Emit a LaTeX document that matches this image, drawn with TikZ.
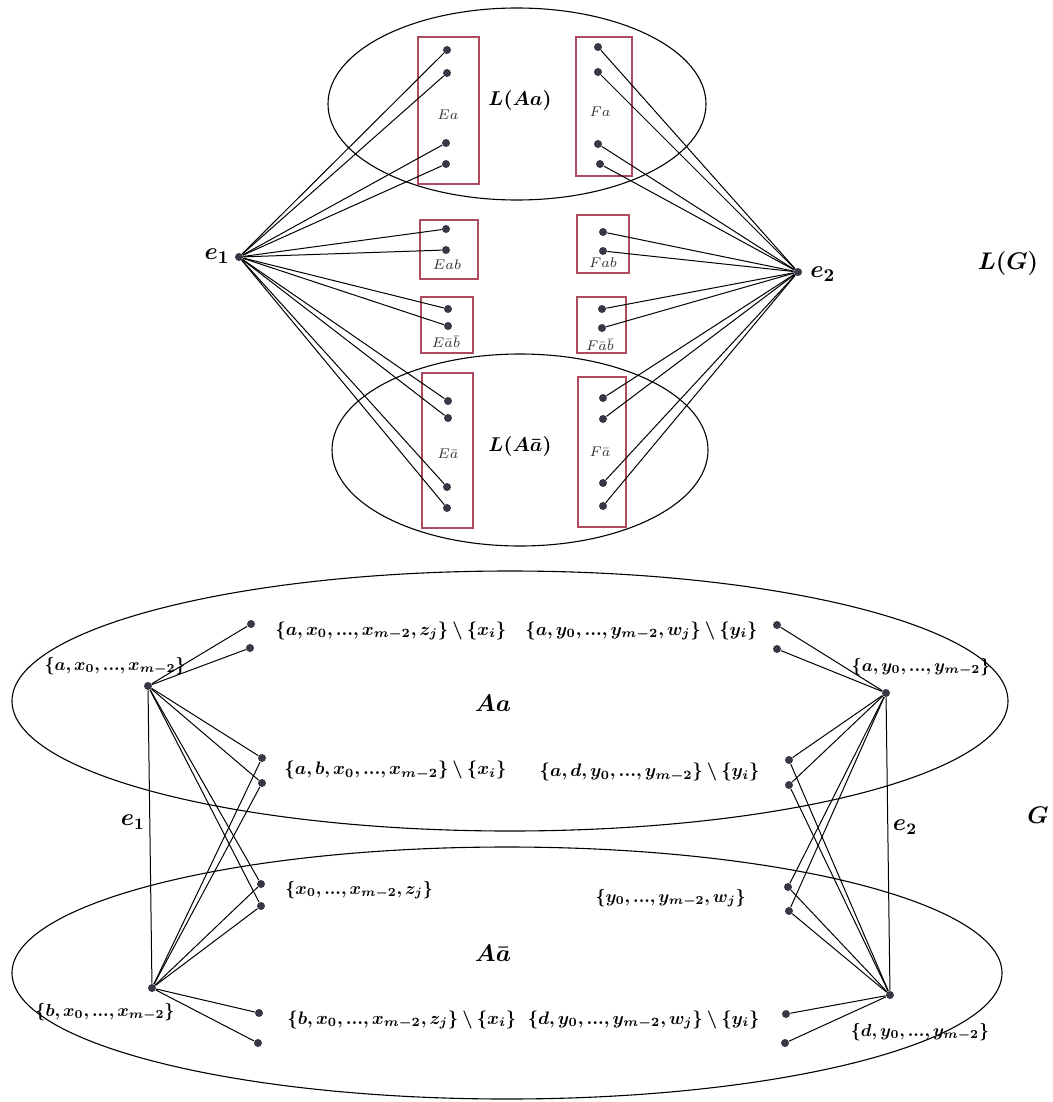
\documentclass[tikz,border=0pt]{standalone}
\usepackage{graphicx}
\usepackage{bm}
\newcommand{\labA}[1]{\scalebox{0.905}{$\bm{#1}$}}
\newcommand{\labB}[1]{\scalebox{0.875}{$\bm{#1}$}}
\begin{document}
\begin{tikzpicture}[x=0.5pt,y=-0.5pt,
  dot/.style={circle,fill=dotc,inner sep=0pt,minimum size=4pt},
  boxr/.style={draw=boxc,line width=0.7pt},
  ell/.style={draw=black,line width=0.55pt},
  edge/.style={draw=black,line width=0.5pt},
  sml/.style={font=\scriptsize,text=black!80,inner sep=1pt},
  lbl/.style={inner sep=1pt},
  big/.style={font=\fontsize{13}{15}\selectfont,inner sep=1pt}]
\definecolor{dotc}{RGB}{55,55,70}
\definecolor{boxc}{RGB}{175,75,95}
\useasboundingbox (0,0) rectangle (1053,1102);
% ---------- top: L(G) ----------
\draw[ell] (517,104) ellipse [x radius=189, y radius=96];
\draw[ell] (520,450) ellipse [x radius=188, y radius=96];
\draw[boxr] (418,37) rectangle (479,184);
\draw[boxr] (576,37) rectangle (632,176);
\draw[boxr] (420,220) rectangle (478,279);
\draw[boxr] (577,215) rectangle (629,273);
\draw[boxr] (421,297) rectangle (473,353);
\draw[boxr] (577,297) rectangle (626,353);
\draw[boxr] (422,373) rectangle (473,528);
\draw[boxr] (578,377) rectangle (626,527);
\node[sml] (tEa) at (448,115) {$Ea$};
\node[sml] (tFa) at (600,112) {$Fa$};
\node[sml] (tEab) at (447,265) {$Eab$};
\node[sml] (tFab) at (603,263) {$Fab$};
\node[sml] (tEnn) at (446,342) {$E\bar a\bar b$};
\node[sml] (tFnn) at (600,345) {$F\bar a\bar b$};
\node[sml] (tEna) at (448,454) {$E\bar a$};
\node[sml] (tFna) at (600,452) {$F\bar a$};
\node[inner sep=1pt] (tLAa) at (520,100) {$\bm{L(Aa)}$};
\node[inner sep=1pt] (tLAn) at (520,446) {$\bm{L(A\bar a)}$};
\node[big] (tLG) at (1008,263) {$\bm{L(G)}$};
\node[dot] (e1) at (239,257) {};
\node[dot] (e2) at (798,272) {};
\node[big,anchor=east] (te1) at (232,256) {$\bm{e_1}$};
\node[big,anchor=west] (te2) at (808,274) {$\bm{e_2}$};
\foreach \n/\x/\y in {a1/447/50,a2/447/73,a3/446/143,a4/446/164,
  b1/446/229,b2/446/250,c1/448/309,c2/448/326,
  d1/448/401,d2/448/418,d3/447/487,d4/447/508}{
  \node[dot] (\n) at (\x,\y) {};
  \draw[edge] (e1) -- (\n);}
\foreach \n/\x/\y in {f1/598/47,f2/598/72,f3/598/144,f4/600/164,
  g1/603/232,g2/603/251,h1/602/309,h2/602/328,
  k1/603/398,k2/603/419,k3/603/483,k4/603/506}{
  \node[dot] (\n) at (\x,\y) {};
  \draw[edge] (e2) -- (\n);}
% ---------- bottom: G ----------
\draw[ell] (510,701) ellipse [x radius=498, y radius=130];
\draw[ell] (507,973) ellipse [x radius=495, y radius=126];
\node[font=\large,inner sep=1pt] (tAa) at (493,703) {$\bm{Aa}$};
\node[font=\large,inner sep=1pt] (tAn) at (493,953) {$\bm{A\bar a}$};
\node[big] (tG) at (1038,815) {$\bm{G}$};
\node[dot] (A1) at (148,686) {};
\node[dot] (A2) at (152,988) {};
\node[dot] (B1) at (886,693) {};
\node[dot] (B2) at (890,995) {};
\draw[edge] (A1) -- (A2);
\draw[edge] (B1) -- (B2);
\node[font=\large,inner sep=1pt] (te1b) at (133,822) {$\bm{e_1}$};
\node[font=\large,inner sep=1pt] (te2b) at (905,827) {$\bm{e_2}$};
\foreach \n/\x/\y in {p1/251/624,p2/250/648,q1/262/758,q2/262/783,
  r1/261/884,r2/261/906,s1/259/1013,s2/258/1043,
  P1/777/625,P2/777/649,Q1/789/760,Q2/789/785,
  R1/788/887,R2/789/911,S1/786/1014,S2/785/1043}{
  \node[dot] (\n) at (\x,\y) {};}
\foreach \n in {p1,p2,q1,q2,r1,r2}{\draw[edge] (A1) -- (\n);}
\foreach \n in {q1,q2,r1,r2,s1,s2}{\draw[edge] (A2) -- (\n);}
\foreach \n in {P1,P2,Q1,Q2,R1,R2}{\draw[edge] (B1) -- (\n);}
\foreach \n in {Q1,Q2,R1,R2,S1,S2}{\draw[edge] (B2) -- (\n);}
\node[lbl] (lA1) at (115,666) {\labB{\{a,x_0,...,x_{m-2}\}}};
\node[lbl] (lB1) at (921,667) {\labB{\{a,y_0,...,y_{m-2}\}}};
\node[lbl] (lA2) at (105,1012) {\labB{\{b,x_0,...,x_{m-2}\}}};
\node[lbl] (lB2) at (920,1032) {\labB{\{d,y_0,...,y_{m-2}\}}};
\node[lbl,anchor=west] (lp) at (273,631) {\labA{\{a,x_0,...,x_{m-2},z_j\}\setminus\{x_i\}}};
\node[lbl,anchor=east] (lP) at (760,631) {\labA{\{a,y_0,...,y_{m-2},w_j\}\setminus\{y_i\}}};
\node[lbl,anchor=west] (lq) at (282,770) {\labA{\{a,b,x_0,...,x_{m-2}\}\setminus\{x_i\}}};
\node[lbl,anchor=east] (lQ) at (762,772) {\labA{\{a,d,y_0,...,y_{m-2}\}\setminus\{y_i\}}};
\node[lbl,anchor=west] (lr) at (283,890) {\labB{\{x_0,...,x_{m-2},z_j\}}};
\node[lbl,anchor=east] (lR) at (748,898) {\labB{\{y_0,...,y_{m-2},w_j\}}};
\node[lbl,anchor=west] (ls) at (285,1020) {\labA{\{b,x_0,...,x_{m-2},z_j\}\setminus\{x_i\}}};
\node[lbl,anchor=east] (lS) at (762,1020) {\labA{\{d,y_0,...,y_{m-2},w_j\}\setminus\{y_i\}}};
\end{tikzpicture}
\end{document}
